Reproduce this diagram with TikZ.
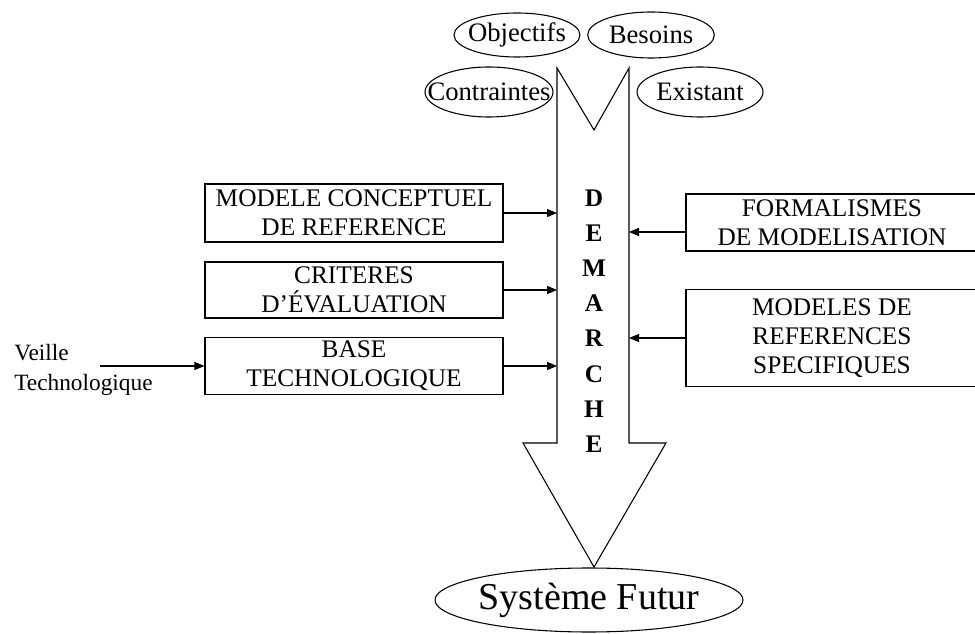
\documentclass[tikz,border=0pt]{standalone}
\usepackage{fontspec}
\setmainfont{Liberation Serif}
\usetikzlibrary{arrows.meta,shapes.geometric}
\tikzset{
  boite/.style={draw, line width=0.8pt, align=center, inner sep=0pt, font=\fontsize{19}{21.75}\selectfont},
  bulle/.style={draw, ellipse, line width=0.8pt, inner ysep=0pt, inner xsep=-8pt, font=\fontsize{20}{22}\selectfont},
  fleche/.style={line width=0.8pt, -{Triangle[length=7.5pt,width=6pt]}},
}

\begin{document}
\begin{tikzpicture}[x=0.75pt, y=-0.75pt]
            \useasboundingbox (0,0) rectangle (975,634);
            % grande fleche de la demarche
            \draw[line width=0.8pt] (557,68) -- (594,130) -- (629,68) -- (629,443) -- (666,443)
                 -- (594,567) -- (523,443) -- (557,443) -- cycle;
            \node[align=center, font=\fontsize{19}{26.4}\selectfont\bfseries] (demarche) at (594,321) {D\\E\\M\\A\\R\\C\\H\\E};
            % entrees
            \node[bulle, minimum width=94.5pt, minimum height=33pt]   (objectifs)   at (517, 35) {Objectifs};
            \node[bulle, minimum width=95pt,   minimum height=34.5pt] (besoins)     at (651, 35) {Besoins};
            \node[bulle, minimum width=96pt,   minimum height=37.5pt, inner xsep=-14pt] (contraintes) at (489, 92) {Contraintes};
            \node[bulle, minimum width=94.5pt, minimum height=37.5pt] (existant)    at (700, 92) {Existant};
            \node[bulle, minimum width=231pt,  minimum height=48pt, font=\fontsize{28.5}{30}\selectfont] (systeme) at (589,600) {Système Futur};
            % boites de gauche
            \node[boite, minimum width=223.5pt, minimum height=43.5pt] (mcr)  at (354,213) {MODELE CONCEPTUEL\\DE REFERENCE};
            \node[boite, minimum width=223.5pt, minimum height=42pt]   (crit) at (354,290) {CRITERES\\D’ÉVALUATION};
            \node[boite, minimum width=223.5pt, minimum height=42.75pt](base) at (354,366) {BASE\\TECHNOLOGIQUE};
            \node[anchor=west, align=left, inner sep=0pt, font=\fontsize{17.5}{22.5}\selectfont] (veille) at (14,370) {Veille\\Technologique};
            % boites de droite
            \node[boite, minimum width=219pt, minimum height=42.75pt] (form) at (832,222.5) {FORMALISMES\\DE MODELISATION};
            \node[boite, minimum width=219pt, minimum height=72.75pt] (mrs)  at (832,338)   {MODELES DE\\REFERENCES\\SPECIFIQUES};
            % liaisons
            \coordinate (g1) at (557,213);
            \coordinate (g2) at (557,290);
            \coordinate (g3) at (557,366);
            \coordinate (d1) at (629,232);
            \coordinate (d2) at (629,338);
            \coordinate (vdep) at (100,366);
            \draw[fleche] (mcr.east)          -- (g1);
            \draw[fleche] (crit.east)         -- (g2);
            \draw[fleche] (base.east)         -- (g3);
            \draw[fleche] (vdep)              -- (base.west);
            \draw[fleche] (form.west |- d1)   -- (d1);
            \draw[fleche] (mrs.west)          -- (d2);
        \end{tikzpicture}
\end{document}
